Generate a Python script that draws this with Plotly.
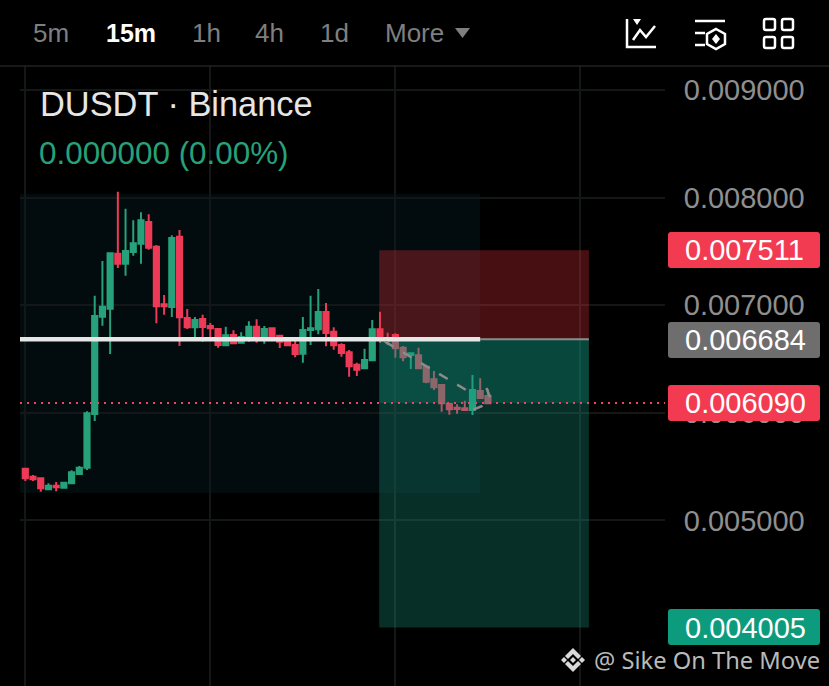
import plotly.graph_objects as go

# candles, 15m (values x 1e-6)
opens = [5481,5406,5391,5289,5323,5304,5345,5431,5490,5989,6893,6968,7479,7386,7495,7572,7773,7544,7008,6983,7637,
         6881,6795,6872,6807,6779,6627,6723,6652,6705,6800,6686,6785,6717,6670,6630,6549,6770,6776,6937,6754,
         6630,6562,6447,6414,6488,6776,6692,6723,6605,6537,6534,6429,6311,6258,6082,6047,6042,6026,6203,6156]
highs = [5490,5422,5395,5345,5357,5357,5466,5506,6014,7088,7411,7492,8055,7897,7789,7863,7845,7560,7095,7650,7699,
         6965,6890,6912,6835,6785,6800,6767,6748,6850,6869,6807,6793,6726,6702,6667,6890,7088,7151,7021,6795,
         6646,6584,6466,6596,6863,6940,6745,6739,6620,6553,6605,6440,6389,6265,6094,6079,6113,6351,6321,6221]
lows = [5366,5366,5267,5280,5270,5295,5341,5422,5468,5924,6810,6547,7346,7274,7460,7386,7516,6832,6912,6890,6621,
        6779,6692,6661,6695,6605,6621,6640,6646,6661,6652,6642,6675,6602,6621,6516,6466,6630,6730,6618,6587,
        6521,6336,6342,6410,6481,6649,6630,6512,6479,6407,6407,6275,6212,6010,5982,5992,6023,5980,6135,6082]
closes = [5391,5382,5298,5323,5308,5350,5447,5490,5995,6900,6986,7482,7386,7504,7575,7789,7535,6990,6990,7625,6888,
          6795,6863,6797,6785,6630,6720,6646,6705,6800,6677,6779,6683,6661,6627,6547,6770,6785,6937,6742,6627,
          6556,6432,6401,6491,6776,6683,6670,6600,6516,6553,6414,6289,6237,6088,6033,6035,6026,6212,6138,6088]

to_price = lambda vals: [v / 1e6 for v in vals]
idx = list(range(len(opens)))

tick_vals = [0.005, 0.006, 0.007, 0.008, 0.009]
tick_text = ["0.005000", "0.006000", "0.007000", "0.008000", "0.009000"]
time_grid = [0, 24, 48, 72]

# position tool
entry = 0.006684
stop = 0.007511
target = 0.004005
last = 0.006090
zone_top = 0.008034
zone_bottom = 0.005255
x_left, x_start, x_mid, x_end = -0.69, 45.9, 59.0, 73.1

# dashed projection
dash_x = [[46.65, 57.9], [58.1, 60.5], [59.8, 60.6]]
dash_y = [[0.006661, 0.006181], [0.006030, 0.006100], [0.006230, 0.006090]]

GREEN = "#27a17a"
RED = "#ee3a57"
FONT = "Liberation Sans"

W, H = 829, 686
L, T, R = 20, 66, 665


def px(x):
    return (x - L) / (R - L)


def py(y):
    return (H - y) / (H - T)


def poly(points, close=True):
    d = "M" + " L".join(f"{px(x):.5f},{py(y):.5f}" for x, y in points)
    return d + (" Z" if close else "")


def round_rect(x0, y0, x1, y1, r):
    # plain rounded corner path, quadratic curves
    return (f"M{px(x0+r):.5f},{py(y0):.5f} L{px(x1-r):.5f},{py(y0):.5f} Q{px(x1):.5f},{py(y0):.5f} {px(x1):.5f},{py(y0+r):.5f} "
            f"L{px(x1):.5f},{py(y1-r):.5f} Q{px(x1):.5f},{py(y1):.5f} {px(x1-r):.5f},{py(y1):.5f} "
            f"L{px(x0+r):.5f},{py(y1):.5f} Q{px(x0):.5f},{py(y1):.5f} {px(x0):.5f},{py(y1-r):.5f} "
            f"L{px(x0):.5f},{py(y0+r):.5f} Q{px(x0):.5f},{py(y0):.5f} {px(x0+r):.5f},{py(y0):.5f} Z")


fig = go.Figure()
fig.add_trace(go.Candlestick(
    x=idx, open=to_price(opens), high=to_price(highs), low=to_price(lows), close=to_price(closes),
    increasing=dict(line=dict(color=GREEN, width=2), fillcolor=GREEN),
    decreasing=dict(line=dict(color=RED, width=2), fillcolor=RED),
    showlegend=False, hoverinfo="skip",
))

shapes = [
    dict(type="rect", xref="x", yref="y", x0=x_left, x1=x_mid, y0=zone_bottom, y1=zone_top,
         fillcolor="#020b0d", line_width=0, layer="below"),
    dict(type="rect", xref="x", yref="y", x0=x_start, x1=x_end, y0=entry, y1=stop,
         fillcolor="rgba(235,50,60,0.30)", line_width=0),
    dict(type="rect", xref="x", yref="y", x0=x_start, x1=x_end, y0=last, y1=entry,
         fillcolor="rgba(18,158,133,0.45)", line_width=0),
    dict(type="rect", xref="x", yref="y", x0=x_start, x1=x_end, y0=target, y1=last,
         fillcolor="rgba(28,160,138,0.29)", line_width=0),
    dict(type="line", xref="x", yref="y", x0=x_mid, x1=x_end, y0=entry, y1=entry,
         line=dict(color="#8c8c8c", width=2)),
    dict(type="line", xref="x", yref="y", x0=x_left, x1=x_mid, y0=entry, y1=entry,
         line=dict(color="#e6e6e6", width=4.5)),
    dict(type="line", xref="x", yref="paper", x0=x_left, x1=82.97, y0=py(403), y1=py(403),
         line=dict(color="#f04560", width=2, dash="2px,5px")),
    # header rule
    dict(type="line", xref="paper", yref="paper", x0=px(0), x1=px(W), y0=py(66), y1=py(66),
         line=dict(color="#222222", width=1.5)),
]

# dashes sit on top of the zones, gray in the picture
for xs, ys in zip(dash_x, dash_y):
    shapes.append(dict(type="line", xref="x", yref="y", x0=xs[0], x1=xs[1], y0=ys[0], y1=ys[1],
                       line=dict(color="#908a8a", width=2.5, dash="10px,11px")))

# price badges
for top, bottom, col in [(232, 268, "#f23b50"), (322, 358, "#6e6e6e"), (385, 421, "#f23b50"), (609, 645, "#0d9b7d")]:
    shapes.append(dict(type="path", xref="paper", yref="paper", path=round_rect(668, top, 820, bottom, 3),
                       fillcolor=col, line_width=0))

WHITE = dict(color="white", width=2.5)
pline = lambda pts, close=False: dict(type="path", xref="paper", yref="paper", path=poly(pts, close), line=WHITE)

# chart icon
shapes += [
    pline([(627, 19), (627, 47), (656, 47)]),
    pline([(633, 40), (640, 30), (646, 37), (655, 26)]),
    dict(type="path", xref="paper", yref="paper", path=poly([(633, 19), (641, 19), (637, 25)]),
         fillcolor="white", line_width=0),
]
# indicator icon
shapes += [
    pline([(695, 21), (725, 21)]),
    pline([(695, 33), (705, 33)]),
    pline([(695, 45), (705, 45)]),
    pline([(716, 29), (725, 34), (725, 44), (716, 49), (707, 44), (707, 34)], True),
    dict(type="path", xref="paper", yref="paper", path=poly([(716, 34), (720, 39), (716, 44), (712, 39)]),
         fillcolor="white", line_width=0),
]
# layout icon
for x0, y0 in [(764, 19), (782, 19), (764, 37), (782, 37)]:
    shapes.append(dict(type="path", xref="paper", yref="paper", path=round_rect(x0, y0, x0 + 11, y0 + 11, 2),
                       line=WHITE, fillcolor="rgba(0,0,0,0)"))
# More triangle
shapes.append(dict(type="path", xref="paper", yref="paper", path=poly([(455, 28), (470, 28), (462.5, 38)]),
                   fillcolor="#7f7f7f", line_width=0))
# watermark logo
LOGO = "#d9d9d9"
for pts in [
    [(573, 648), (581, 656), (578, 659), (573, 654), (568, 659), (565, 656)],
    [(573, 672), (581, 664), (578, 661), (573, 666), (568, 661), (565, 664)],
    [(573, 657), (576, 660), (573, 663), (570, 660)],
    [(564, 657), (567, 660), (564, 663), (561, 660)],
    [(582, 657), (585, 660), (582, 663), (579, 660)],
]:
    shapes.append(dict(type="path", xref="paper", yref="paper", path=poly(pts), fillcolor=LOGO, line_width=0))


def label(x, y, text, size, color, anchor="left", weight=None, family=FONT):
    return dict(xref="paper", yref="paper", x=px(x), y=py(y), text=text, showarrow=False,
                xanchor=anchor, yanchor="middle", align=anchor, borderpad=0,
                font=dict(family=family, size=size, color=color, weight=weight))


annotations = [
    label(32, 33, "5m", 26, "#7f7f7f"),
    label(105, 33, "15m", 25, "#ffffff", weight=600),
    label(191, 33, "1h", 26, "#7f7f7f"),
    label(254, 33, "4h", 26, "#7f7f7f"),
    label(319, 33, "1d", 26, "#7f7f7f"),
    label(384, 33, "More", 26, "#7f7f7f"),
    label(39, 104, "DUSDT · Binance", 34.4, "#e6e6e6"),
    label(38, 153, "0.000000 (0.00%)", 31.4, GREEN),
    label(684, 250, "0.007511", 29, "#ffffff"),
    label(684, 340, "0.006684", 29, "#ffffff"),
    label(684, 403, "0.006090", 29, "#ffffff"),
    label(684, 628, "0.004005", 29, "#ffffff"),
    label(593, 660, "@ Sike On The Move", 23.7, "#b9b9b9", family="Noto Sans"),
]

fig.update_layout(
    width=W, height=H,
    margin=dict(l=L, r=W - R, t=T, b=0),
    paper_bgcolor="#000000", plot_bgcolor="#000000",
    boxgap=0.04,
    shapes=shapes, annotations=annotations,
    xaxis=dict(range=[x_left, 82.97], tickmode="array", tickvals=time_grid, showticklabels=False,
               showgrid=True, gridcolor="#141717", gridwidth=1.5, zeroline=False, rangeslider=dict(visible=False),
               ticks=""),
    yaxis=dict(side="right", range=[0.003461, 0.009223], tickmode="array", tickvals=tick_vals, ticktext=tick_text,
               showgrid=True, gridcolor="#141717", gridwidth=1.5, zeroline=False,
               ticks="outside", ticklen=12, tickcolor="rgba(0,0,0,0)",
               tickfont=dict(family=FONT, size=29, color="#8f8f8f")),
)
fig.write_html("out.html", config=dict(displayModeBar=False),
               post_script="document.body.style.margin='0';document.body.style.background='#000';")
